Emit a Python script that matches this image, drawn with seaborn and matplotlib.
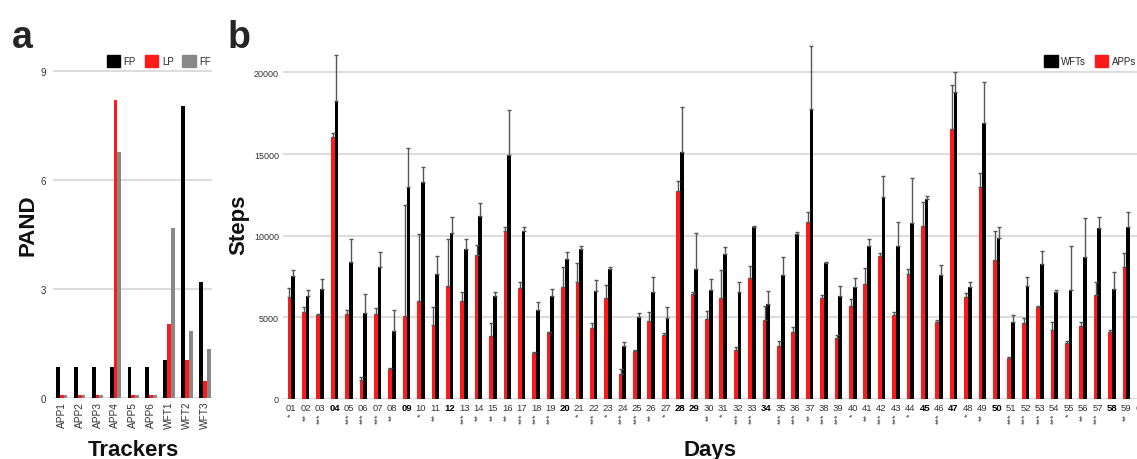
import numpy as np
import pandas as pd
import seaborn as sns
import matplotlib.pyplot as plt
from matplotlib.patches import Patch

# ── Panel a data: PAND per tracker ────────────────────────────────────────────
trackers = ["APP1", "APP2", "APP3", "APP4", "APP5", "APP6", "WFT1", "WFT2", "WFT3"]
pand_fp = [0.86, 0.86, 0.86, 0.86, 0.86, 0.86, 1.06, 8.06, 3.20]
pand_lp = [0.07, 0.07, 0.07, 8.22, 0.07, 0.07, 2.04, 1.05, 0.47]
pand_ff = [0.07, 0.07, 0.07, 6.78, 0.07, 0.07, 4.68, 1.86, 1.35]

# ── Panel b data: daily steps (mean and error) ────────────────────────────────
days = [f"{d:02d}" for d in range(1, 61)]
apps_mean = [6225, 5306, 5143, 16063, 5204, 1184, 5184, 1837, 5102, 5980,
             4551, 6898, 5980, 8817, 3878, 10266, 6776, 2817, 4082, 6837,
             7143, 4327, 6164, 1531, 2959, 4796, 3939, 12756, 6429, 4898,
             6184, 3021, 7409, 4857, 3266, 4123, 10817, 6184, 3735, 5715,
             7041, 8735, 5164, 7654, 10572, 4694, 16532, 6225, 13001, 8531,
             2510, 4633, 5612, 4225, 3409, 4490, 6368, 4082, 8062, 11021]
apps_err = [550, 306, 60, 224, 245, 143, 408, 41, 6776, 4123,
            1061, 2899, 551, 612, 775, 245, 367, 40, 41, 1225,
            1164, 326, 837, 306, 62, 510, 82, 612, 102, 470,
            1715, 143, 755, 858, 306, 306, 653, 184, 184, 408,
            960, 204, 142, 306, 1470, 163, 2714, 265, 816, 1776,
            41, 306, 62, 469, 163, 204, 775, 143, 857, 300]
wfts_mean = [7510, 6327, 6735, 18246, 8368, 5245, 8103, 4184, 12960, 13266,
             7654, 10164, 9184, 11225, 6286, 14960, 10307, 5470, 6286, 8572,
             9184, 6592, 7960, 3266, 5000, 6531, 4939, 15103, 7960, 6674,
             8878, 6531, 10511, 5817, 7593, 10103, 17757, 8327, 6286, 6878,
             9389, 12389, 9389, 10756, 12246, 7593, 18777, 6837, 16879, 9858,
             4694, 6898, 8266, 6572, 6694, 8674, 10470, 6735, 10552, 14328]
wfts_err = [408, 347, 612, 2817, 1429, 1184, 877, 1286, 2389, 960,
            1122, 1000, 613, 776, 286, 2735, 204, 449, 449, 408,
            205, 715, 143, 245, 266, 919, 715, 2797, 2184, 673,
            409, 612, 61, 775, 1081, 143, 3837, 41, 653, 531,
            408, 1286, 1469, 2755, 204, 612, 1225, 347, 2510, 653,
            449, 592, 816, 122, 2695, 2388, 694, 1062, 877, 265]
bold_days = ["04", "09", "12", "20", "28", "29", "34", "45", "47", "50", "58"]
stars = [1, 2, 3, 0, 3, 3, 3, 2, 0, 1, 2, 0, 3, 2, 2, 2, 3, 3, 3, 0,
         1, 3, 1, 3, 3, 2, 1, 0, 0, 2, 1, 3, 3, 0, 3, 3, 2, 3, 3, 1,
         2, 3, 3, 1, 0, 3, 0, 1, 2, 0, 3, 3, 3, 3, 1, 2, 3, 0, 2, 3]

RED, BLACK, GREY = "#ff1a1a", "#000000", "#888888"
GRID = "#d9d9d9"

sns.set_theme(style="white")
plt.rcParams["font.family"] = ["Liberation Sans", "DejaVu Sans"]

W, H = 1137, 460
fig = plt.figure(figsize=(W / 100, H / 100), dpi=100)


def px_axes(left, right, bottom, top):
    return fig.add_axes([left / W, 1 - bottom / H, (right - left) / W, (bottom - top) / H])


def style_axes(ax):
    sns.despine(ax=ax, left=True, bottom=True)
    ax.set_axisbelow(True)
    ax.yaxis.grid(True, color=GRID, lw=1.3)
    ax.tick_params(length=0, labelsize=6.5, labelcolor="#333333")
    ax.set_xlabel("")
    ax.set_ylabel("")


leg_kw = dict(frameon=False, fontsize=7, handlelength=1.4, handleheight=1.4,
              handletextpad=0.35, columnspacing=0.9, borderpad=0.1, borderaxespad=0)

# ── Panel a ───────────────────────────────────────────────────────────────────
df_a = pd.DataFrame({
    "Tracker": trackers * 3,
    "Metric": ["FP"] * 9 + ["LP"] * 9 + ["FF"] * 9,
    "PAND": pand_fp + pand_lp + pand_ff,
})
ax_a = px_axes(53, 212, 399, 59)
sns.barplot(data=df_a, x="Tracker", y="PAND", hue="Metric",
            hue_order=["FP", "LP", "FF"], palette=[BLACK, RED, GREY],
            width=0.64, errorbar=None, saturation=1, linewidth=0,
            legend=False, ax=ax_a)
style_axes(ax_a)
ax_a.set_ylim(0, 9.37)
ax_a.set_xlim(-0.49, 8.4)
ax_a.set_yticks([0, 3, 6, 9])
ax_a.tick_params(axis="x", rotation=90, pad=2, labelsize=7.3)
ax_a.tick_params(axis="y", pad=5, labelsize=7)
fig.legend(handles=[Patch(color=c, label=l) for c, l in zip([BLACK, RED, GREY], ["FP", "LP", "FF"])],
           loc="center right", bbox_to_anchor=(212 / W, 1 - 62 / H), ncol=3, **leg_kw)

# ── Panel b ───────────────────────────────────────────────────────────────────
df_b = pd.DataFrame({
    "Day": days * 2,
    "Group": ["APPs"] * 60 + ["WFTs"] * 60,
    "Steps": apps_mean + wfts_mean,
})
ax_b = px_axes(283, 1146, 400, 44)
sns.barplot(data=df_b, x="Day", y="Steps", hue="Group", order=days,
            hue_order=["APPs", "WFTs"], palette=[RED, BLACK],
            width=0.52, errorbar=None, saturation=1, linewidth=0,
            legend=False, ax=ax_b)
for container, means, errs in zip(ax_b.containers, [apps_mean, wfts_mean], [apps_err, wfts_err]):
    xs = [p.get_x() + p.get_width() / 2 for p in container]
    ax_b.errorbar(xs, means, yerr=[np.zeros(len(errs)), errs], fmt="none",
                  ecolor="#555555", elinewidth=1.0, capsize=1.6, capthick=1.0)
style_axes(ax_b)
ax_b.set_ylim(0, 21800)
ax_b.set_xlim(-0.58, 59.37)
ax_b.set_yticks([0, 5000, 10000, 15000, 20000])
ax_b.tick_params(axis="y", pad=3)
ax_b.tick_params(axis="x", pad=3, labelsize=6.8)
for lab in ax_b.get_xticklabels():
    if lab.get_text() in bold_days:
        lab.set_fontweight("bold")
        lab.set_color("black")
for i, n in enumerate(stars):
    if n:
        ax_b.annotate("*" * n, xy=(i, 0), xycoords=("data", "axes fraction"),
                      xytext=(0, -14), textcoords="offset pixels",
                      rotation=90, ha="center", va="top", fontsize=6.5, color="#444444")
fig.legend(handles=[Patch(color=BLACK, label="WFTs"), Patch(color=RED, label="APPs")],
           loc="center right", bbox_to_anchor=(1.0, 1 - 62 / H), ncol=2, **leg_kw)

# ── Axis titles and panel letters ─────────────────────────────────────────────
title_kw = dict(fontsize=16, fontweight="bold", color="#111111")
fig.text(28 / W, 1 - 225 / H, "PAND", rotation=90, ha="center", va="center", **title_kw)
fig.text(133 / W, 1 - 456 / H, "Trackers", ha="center", va="baseline", **title_kw)
fig.text(239 / W, 1 - 225 / H, "Steps", rotation=90, ha="center", va="center", **title_kw)
fig.text(710 / W, 1 - 456 / H, "Days", ha="center", va="baseline", **title_kw)
fig.text(12 / W, 1 - 48 / H, "a", fontsize=27, fontweight="bold", va="baseline")
fig.text(228 / W, 1 - 48 / H, "b", fontsize=27, fontweight="bold", va="baseline")

fig.savefig("out.png", dpi=100)
